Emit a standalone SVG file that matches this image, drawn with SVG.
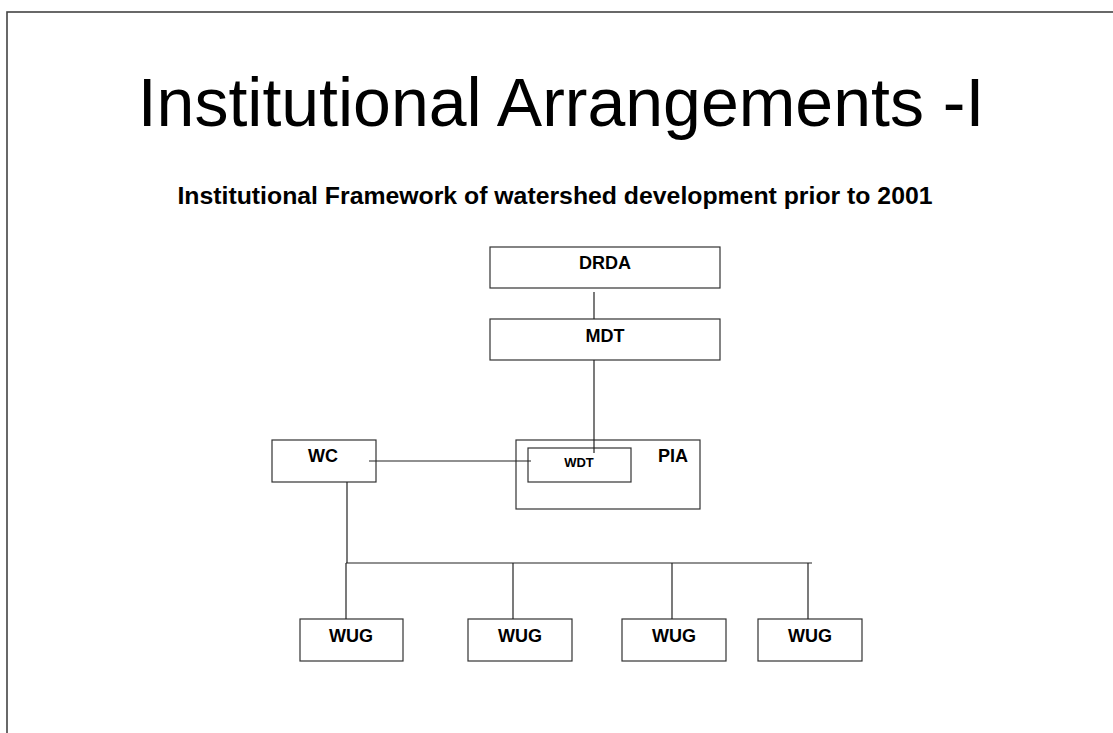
<svg xmlns="http://www.w3.org/2000/svg" width="1113" height="733" viewBox="0 0 1113 733">
<style>
.box{fill:#fff;stroke:#333;stroke-width:1.2}
.lbl{font-family:"Liberation Sans",Arial,sans-serif;font-weight:bold;font-size:18px;fill:#000;text-anchor:middle}
.conn line{stroke:#222;stroke-width:1.2}
</style>
<rect x="0" y="0" width="1113" height="733" fill="#fff"/>
<rect x="7" y="12" width="1120" height="740" fill="none" stroke="#444" stroke-width="1.6"/>
<text x="561" y="126" font-family="Liberation Sans,Arial,sans-serif" font-size="68" fill="#000" text-anchor="middle">Institutional Arrangements -I</text>
<text x="555" y="204" font-family="Liberation Sans,Arial,sans-serif" font-weight="bold" font-size="24.8" fill="#000" text-anchor="middle">Institutional Framework of watershed development prior to 2001</text>
<g id="drda"><rect class="box" x="490" y="247" width="230" height="41"/><text class="lbl" x="605" y="269">DRDA</text></g>
<g id="mdt"><rect class="box" x="490" y="319" width="230" height="41"/><text class="lbl" x="605" y="342">MDT</text></g>
<g id="pia"><rect class="box" x="516" y="440" width="184" height="69"/><text class="lbl" x="673" y="462">PIA</text></g>
<g id="wdt"><rect class="box" x="528" y="448" width="103" height="34"/><text class="lbl" x="579" y="467" style="font-size:13px">WDT</text></g>
<g id="wc"><rect class="box" x="272" y="440" width="104" height="42"/><text class="lbl" x="323" y="462">WC</text></g>
<g id="wug1"><rect class="box" x="300" y="619" width="103" height="42"/><text class="lbl" x="351" y="642">WUG</text></g>
<g id="wug2"><rect class="box" x="468" y="619" width="104" height="42"/><text class="lbl" x="520" y="642">WUG</text></g>
<g id="wug3"><rect class="box" x="622" y="619" width="104" height="42"/><text class="lbl" x="674" y="642">WUG</text></g>
<g id="wug4"><rect class="box" x="758" y="619" width="104" height="42"/><text class="lbl" x="810" y="642">WUG</text></g>
<g class="conn" id="connectors">
<line x1="594" y1="292" x2="594" y2="319"/>
<line x1="594" y1="360" x2="594" y2="453"/>
<line x1="369" y1="461" x2="531" y2="461"/>
<line x1="347" y1="482" x2="347" y2="563"/>
<line x1="346" y1="563" x2="812" y2="563"/>
<line x1="346" y1="563" x2="346" y2="619"/>
<line x1="513" y1="563" x2="513" y2="619"/>
<line x1="672" y1="563" x2="672" y2="619"/>
<line x1="808" y1="563" x2="808" y2="619"/>
</g>
</svg>
